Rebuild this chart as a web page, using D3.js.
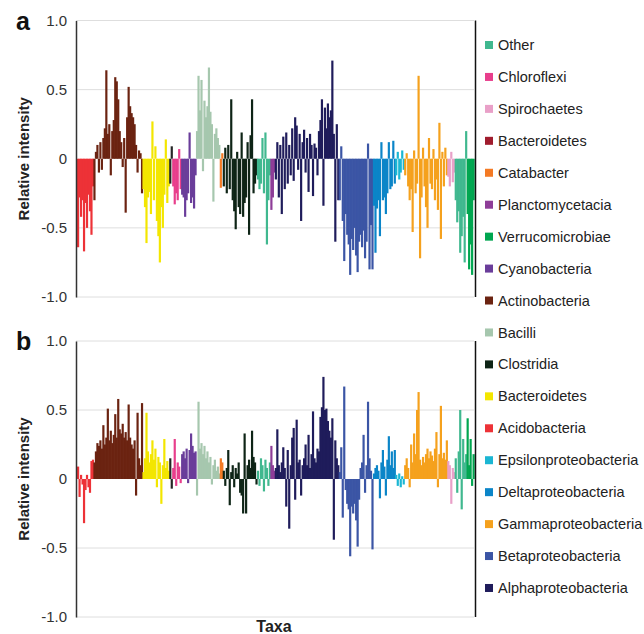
<!DOCTYPE html>
<html>
<head>
<meta charset="utf-8">
<script src="https://cdn.jsdelivr.net/npm/d3@7"></script>
<style>
  body { margin: 0; background: #fff; }
  text { font-family: "Liberation Sans", Arial, sans-serif; }
</style>
</head>
<body>
<svg id="chart"></svg>
<script>
// taxa groups in the order they run along the x axis
const taxa = ["Acidobacteria", "Actinobacteria", "Bacteroidetes", "Bacteroidetes (other)", "Chloroflexi",
  "Cyanobacteria", "Bacilli", "Catabacter", "Clostridia", "Other", "Planctomycetacia",
  "Alphaproteobacteria", "Betaproteobacteria", "Deltaproteobacteria", "Epsilonproteobacteria",
  "Gammaproteobacteria", "Spirochaetes", "Other", "Verrucomicrobiae"];
const taxaColors = ["#ed3237", "#6b2311", "#f3e600", "#262626", "#e83e8c",
  "#6a3d9a", "#a6c7ae", "#f47a24", "#0e2416", "#40b88f", "#8e3d98",
  "#1f1c5b", "#3b55a5", "#0b85c8", "#1bb6d3",
  "#f5a11d", "#e9a0c8", "#40b88f", "#00a650"];

// panel a: relative intensity per feature, one list per taxon
const panelA = [
  [-0.64, -0.28, -0.42, -0.30, -0.67, -0.32, -0.50, -0.26, -0.38, -0.55, -0.20],
  [-0.30, 0.05, 0.10, -0.10, 0.12, -0.08, 0.15, 0.22, 0.64, 0.18, 0.25, -0.12, 0.20, 0.28, 0.59, 0.56,
   0.43, 0.20, 0.12, -0.06, 0.15, -0.39, 0.30, 0.52, 0.38, 0.33, 0.30, 0.25, 0.10, -0.10, 0.06, 0.04, -0.25],
  [-0.22, -0.35, -0.61, -0.28, -0.24, -0.40, 0.27, -0.30, 0.09, -0.45, -0.56, -0.75, -0.35, -0.50, -0.26, 0.14, -0.32, -0.20],
  [-0.18, 0.09],
  [-0.20, -0.33, -0.25, -0.30, 0.07, -0.22],
  [-0.26, -0.28, -0.42, -0.30, -0.25, 0.19, -0.32, -0.28, -0.36, -0.12],
  [0.20, 0.60, 0.35, 0.57, -0.09, 0.42, 0.30, 0.38, 0.66, 0.34, 0.25, -0.31, 0.18, 0.22, 0.15, 0.10],
  [-0.21, 0.04],
  [-0.20, 0.08, -0.25, 0.10, -0.22, 0.43, -0.30, -0.38, -0.51, 0.05, -0.35, -0.40, 0.19, -0.42, -0.32,
   -0.28, 0.12, -0.55, 0.17, 0.43, -0.25, -0.18, -0.12],
  [-0.15, -0.22, -0.18, 0.15, -0.25, 0.19, -0.62, -0.30, -0.12],
  [-0.37, -0.28, -0.10],
  [-0.15, 0.12, -0.28, 0.10, -0.40, 0.16, -0.22, 0.19, -0.18, 0.10, -0.12, 0.22, -0.16, 0.30, 0.24, -0.08,
   0.18, -0.45, 0.12, 0.21, -0.10, 0.15, -0.24, 0.18, 0.10, -0.27, 0.11, 0.08, -0.12, 0.20, 0.28, 0.43,
   -0.34, 0.37, 0.22, 0.40, 0.30, 0.35, 0.71, 0.18, -0.60, 0.25, -0.30],
  [-0.30, 0.09, -0.45, -0.74, -0.40, -0.55, -0.62, -0.84, -0.58, -0.66, -0.50, -0.70, -0.82, -0.60, -0.55,
   -0.64, -0.52, -0.72, -0.60, 0.11, -0.80, -0.48, -0.80],
  [-0.34, -0.68, -0.36, -0.30, -0.56, 0.12, -0.30, -0.28, -0.40, -0.25, 0.12, -0.22, -0.20, 0.13, -0.18],
  [-0.12, 0.05, -0.15, -0.10, 0.06, -0.08],
  [-0.12, 0.04, -0.20, -0.30, -0.22, -0.53, 0.06, -0.25, -0.18, 0.60, -0.72, -0.28, 0.08, -0.20, -0.35,
   -0.50, 0.15, -0.18, -0.22, 0.07, -0.30, -0.15, -0.37, 0.26, -0.58, 0.05, -0.20, 0.08, -0.12],
  [-0.13, -0.20, 0.05, -0.17, -0.10],
  [-0.30, -0.46, -0.38, -0.68, -0.56, -0.42, -0.75, 0.20],
  [-0.40, -0.80, -0.62, -0.84, -0.30]
];

// panel b
const panelB = [
  [0.09, -0.13, 0.03, -0.04, -0.32, -0.08, 0.03, -0.06, -0.10, 0.13, 0.14],
  [0.12, 0.20, 0.26, 0.24, 0.28, 0.22, 0.39, 0.25, 0.30, 0.51, 0.28, 0.35, 0.26, 0.32, 0.47, 0.30,
   0.58, 0.36, 0.33, 0.40, 0.30, 0.34, 0.28, 0.54, 0.30, 0.25, 0.22, 0.28, -0.12, 0.48, 0.15, 0.10, 0.55],
  [0.05, 0.15, 0.48, 0.20, 0.12, 0.18, 0.28, 0.14, 0.22, -0.06, 0.16, 0.12, -0.18, 0.10, 0.29, 0.08, 0.13, 0.06],
  [0.15, -0.07],
  [0.08, 0.29, -0.05, 0.12, 0.09, -0.03],
  [0.18, 0.20, 0.15, 0.22, -0.03, 0.21, 0.33, 0.24, 0.19, 0.20],
  [-0.12, 0.56, 0.22, 0.26, 0.18, 0.24, 0.15, 0.20, 0.12, 0.16, -0.04, 0.10, 0.14, 0.06, 0.09, 0.04],
  [0.15, 0.12],
  [0.06, -0.05, 0.08, 0.21, -0.19, 0.05, 0.10, -0.06, 0.08, 0.04, 0.12, -0.10, -0.12, -0.25, 0.33,
   -0.25, 0.10, 0.14, 0.08, 0.35, 0.16, 0.12, -0.04],
  [0.06, -0.05, 0.15, 0.10, -0.09, 0.14, 0.08, -0.05, 0.12],
  [0.24, 0.10, 0.06],
  [0.08, 0.36, 0.10, 0.05, 0.12, 0.23, 0.08, -0.20, 0.21, -0.36, 0.10, 0.30, 0.37, -0.15, 0.43, 0.12,
   0.14, -0.12, 0.10, 0.15, 0.25, 0.10, 0.32, 0.08, 0.18, 0.49, 0.15, 0.12, 0.22, 0.20, 0.45, 0.52,
   0.74, 0.50, 0.51, 0.42, 0.35, 0.30, 0.44, -0.44, 0.28, 0.15, 0.10],
  [0.05, 0.23, -0.28, 0.67, -0.08, -0.18, -0.22, -0.56, -0.20, -0.25, -0.18, -0.30, -0.49, -0.15, 0.08,
   0.12, 0.32, -0.10, 0.10, 0.56, 0.15, 0.06, -0.51],
  [0.04, 0.08, 0.10, 0.06, -0.14, 0.12, 0.21, 0.09, -0.12, 0.14, 0.31, 0.10, 0.20, 0.08, 0.21],
  [0.03, -0.05, 0.04, -0.06, 0.02, -0.04],
  [0.10, 0.15, 0.08, -0.06, 0.25, 0.12, 0.33, 0.18, 0.50, 0.63, 0.14, 0.10, 0.16, 0.12, 0.18, 0.22,
   0.15, 0.20, 0.17, 0.13, 0.22, 0.34, -0.06, 0.18, 0.53, 0.15, 0.19, 0.14, 0.28],
  [0.13, 0.10, -0.18, 0.08, 0.05],
  [0.15, -0.10, 0.20, 0.50, -0.22, 0.29, 0.12, 0.18],
  [0.44, 0.10, 0.29, -0.05, 0.18]
];

const legendNames = ["Other", "Chloroflexi", "Spirochaetes", "Bacteroidetes", "Catabacter",
  "Planctomycetacia", "Verrucomicrobiae", "Cyanobacteria", "Actinobacteria", "Bacilli", "Clostridia",
  "Bacteroidetes", "Acidobacteria", "Epsilonproteobacteria", "Deltaproteobacteria",
  "Gammaproteobacteria", "Betaproteobacteria", "Alphaproteobacteria"];
const legendColors = ["#40b88f", "#e83e8c", "#e9a0c8", "#a01c2e", "#f47a24",
  "#8e3d98", "#00a650", "#6a3d9a", "#6b2311", "#a6c7ae", "#0e2416",
  "#f3e600", "#ed3237", "#1bb6d3", "#0b85c8",
  "#f5a11d", "#3b55a5", "#1f1c5b"];

const yTicks = [1, 0.5, 0, -0.5, -1];

const width = 644, height = 634;
const left = 76, right = 475;

const svg = d3.select("#chart")
  .attr("width", width)
  .attr("height", height)
  .attr("viewBox", [0, 0, width, height]);

function flatten(panel) {
  return panel.flatMap((vals, g) => vals.map(v => ({ v, color: taxaColors[g], taxon: taxa[g] })));
}

function drawPanel(panel, top, bottom, letter) {
  const bars = flatten(panel);
  const x = d3.scaleBand().domain(d3.range(bars.length)).range([left + 1, right - 1]).padding(0);
  const y = d3.scaleLinear().domain([-1, 1]).range([bottom, top]);
  const g = svg.append("g");

  // light grid
  g.append("g")
    .selectAll("line")
    .data(yTicks.filter(t => t !== 0))
    .join("line")
    .attr("x1", left).attr("x2", right - 1)
    .attr("y1", d => y(d)).attr("y2", d => y(d))
    .attr("stroke", "#dedede").attr("stroke-width", 1);

  g.append("g")
    .selectAll("rect")
    .data(bars)
    .join("rect")
    .attr("x", (d, i) => x(i))
    .attr("width", x.bandwidth() + 0.7)
    .attr("y", d => y(Math.max(0, d.v)))
    .attr("height", d => Math.abs(y(d.v) - y(0)))
    .attr("fill", d => d.color);

  g.append("g")
    .attr("transform", `translate(${left},0)`)
    .call(d3.axisLeft(y).tickValues(yTicks).tickSize(0).tickPadding(9)
      .tickFormat(d => d === 0 ? "0" : d.toFixed(1)))
    .call(a => a.select(".domain").attr("stroke", "#333").attr("stroke-width", 1.5))
    .call(a => a.selectAll("text")
      .attr("font-size", 15).attr("fill", "#333")
      .attr("font-family", "'Liberation Sans', Arial, sans-serif"));

  g.append("line")
    .attr("x1", right + 0.5).attr("x2", right + 0.5)
    .attr("y1", top).attr("y2", bottom)
    .attr("stroke", "#111").attr("stroke-width", 1.5);

  g.append("text")
    .attr("x", 16).attr("y", top + 9)
    .attr("font-size", 25).attr("font-weight", "bold").attr("fill", "#111")
    .text(letter);

  g.append("text")
    .attr("transform", `translate(29,${y(0)}) rotate(-90)`)
    .attr("text-anchor", "middle")
    .attr("font-size", 15).attr("font-weight", "bold").attr("fill", "#222")
    .text("Relative intensity");
}

drawPanel(panelA, 20.5, 297, "a");
drawPanel(panelB, 341, 617, "b");

svg.append("text")
  .attr("x", 274).attr("y", 632)
  .attr("text-anchor", "middle")
  .attr("font-size", 16).attr("font-weight", "bold").attr("fill", "#222")
  .text("Taxa");

// legend
const legend = svg.append("g")
  .selectAll("g")
  .data(legendNames)
  .join("g")
  .attr("transform", (d, i) => `translate(485,${45 + i * 31.94})`);

legend.append("rect")
  .attr("x", 0).attr("y", -4)
  .attr("width", 8).attr("height", 8)
  .attr("fill", (d, i) => legendColors[i]);

legend.append("text")
  .attr("x", 13).attr("dy", "0.35em")
  .attr("font-size", 14.5).attr("fill", "#222")
  .text(d => d);
</script>
</body>
</html>
